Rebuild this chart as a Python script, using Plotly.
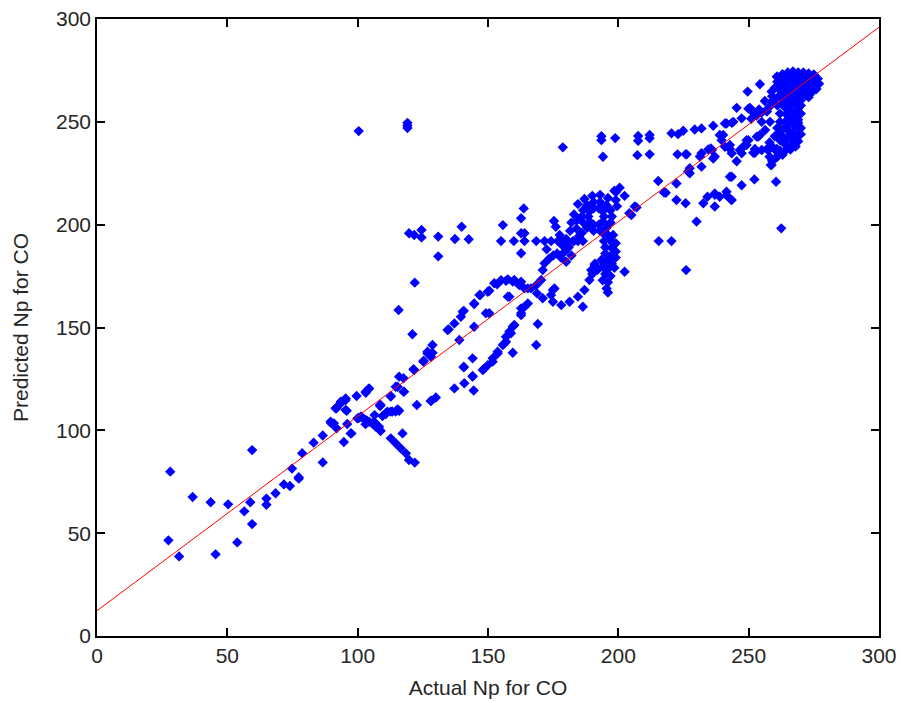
import plotly.graph_objects as go

# ---- regression line ----
fit_x = [0, 300]
fit_y = [12.3, 296.0]

# ---- scatter data, grouped by region (Actual, Predicted) ----
low_pts = [(28.1,79.9),(27.4,46.5),(31.5,38.7),(36.7,67.6),(43.6,65.0),(45.5,39.7),(50.3,64.0),(53.8,45.5),
           (56.5,60.6),(58.8,65.0),(59.5,90.4),(59.5,54.4),(65.0,66.8),(65.0,63.8),(68.5,69.4),(71.7,73.7),
           (74.0,72.9),(74.8,81.4),(77.4,76.5),(77.4,77.2),(78.7,88.9),(83.1,94.0),(86.6,97.5),(86.6,84.4),
           (89.8,103.5),(91.9,101.0),(91.9,110.7),(94.7,94.3),(96.0,103.1),(97.6,98.5),(93.5,113.9),(95.4,115.5),
           (95.8,109.5),(99.6,116.7),(103.1,118.3),(104.0,119.9),(97.3,98.5),(90.9,103.4)]

mid1_pts = [(99.9,105.8),(101.4,106.6),(102.7,105.3),(104.4,104.2),(105.6,103.4),(106.9,101.8),(108.6,100.1),
            (106.5,107.4),(108.6,111.8),(110.8,108.3),(112.7,109.1),(114.6,109.1),(115.9,109.5),(112.7,116.4),
            (115.3,121.2),(117.8,118.8),(117.2,98.5),(112.7,96.1),(114.6,93.7),(116.5,91.3),(118.5,88.8),
            (119.7,85.6),(121.9,84.3),(101.2,106.6),(103.5,104.8),(106.3,104.2),(108.2,101.8),(108.8,99.7),
            (110.8,107.9),(109.5,107.0),(113.3,109.1),(115.3,110.2),(92.2,111.5),(95.4,109.9),(95.4,114.7),
            (94.1,113.9),(104.4,120.4),(103.1,118.8),(108.8,112.3),(111.4,109.1),(117.6,118.8),(115.9,126.1),
            (117.6,125.3),(114.6,121.2),(112.7,116.7),(108.6,112.3),(122.7,112.3),(128.1,114.2),(130.0,116.0),
            (128.1,114.4),(89.6,104.2),(91.5,110.7),(100.4,106.0),(103.0,103.0)]

loop_pts = [(121.7,129.3),(125.2,133.4),(126.8,137.4),(128.7,141.5),(128.7,137.7),(126.8,138.2),(128.1,135.8),
            (125.3,133.8),(121.4,129.7),(121.0,146.7),(115.7,158.5),(121.9,171.8),(134.5,148.8),(134.9,149.1),
            (137.1,152.0),(139.6,155.2),(140.7,158.1),(144.7,161.7),(146.7,165.8),(149.9,167.4),(152.4,171.5),
            (156.9,172.7),(157.6,173.4),(160.1,173.1),(162.7,172.3),(165.3,169.0),(157.6,165.0),(158.2,165.0),
            (149.2,156.9),(144.7,150.4),(139.0,143.9),(144.1,135.0),(140.7,130.9),(140.9,122.9),(137.1,120.4),
            (144.1,126.1),(144.5,119.4),(148.0,129.3),(149.9,131.7),(151.8,135.0),(153.7,138.2),(155.7,141.5),
            (156.9,145.5),(158.2,148.0),(159.5,150.4),(156.3,142.3),(159.5,137.7),(153.7,137.4),(151.8,133.4),
            (148.6,130.1),(140.7,130.6),(144.1,126.4),(162.7,159.3),(162.7,156.0),(165.3,161.7),(140.3,157.7),
            (144.7,161.4),(147.0,165.8),(150.5,167.9),(150.5,156.9),(153.5,171.0),(155.0,173.0)]

outlier_pts = [(100.4,245.5),(119.1,249.5),(119.1,248.2),(119.1,247.0),(119.7,195.8),(121.7,195.0),(124.5,197.4),
               (124.5,193.8),(130.9,194.2),(130.9,184.6),(137.3,193.0),(139.9,199.0),(142.6,192.9)]

row_pts = [(155.7,199.8),(162.7,203.1),(163.7,207.9),(162.7,195.8),(164.0,195.8),(162.7,186.1),(155.0,192.0),
           (159.9,192.0),(164.0,192.0),(168.5,192.0),(171.7,192.0),(174.2,192.0),(176.8,192.0),(178.7,192.0),
           (180.7,192.0),(182.6,192.0),(184.5,192.0),(186.4,192.0),(175.3,201.8),(178.7,237.6)]

hook_pts = [(174.9,162.5),(178.1,160.9),(181.3,162.5),(184.5,165.0),(187.0,168.2),(188.9,173.1),(189.6,177.9),
            (190.9,180.4),(193.5,182.8),(174.2,165.8),(175.5,169.0),(186.4,160.1),(171.7,181.2),(171.0,177.9),
            (170.4,173.1),(168.5,170.6),(166.5,169.0),(168.8,166.6),(171.0,164.2),(174.9,168.2),(164.0,160.1),
            (162.7,156.9),(160.1,151.2),(158.8,147.2),(156.9,143.1),(169.1,151.7),(168.5,141.5),(159.5,172.3),
            (162.0,170.6),(164.0,169.0),(176.5,186.0),(173.5,183.5),(172.5,188.0)]

cluster1_pts = [(188.5,204.0),(189.0,206.5),(190.5,208.0),(192.5,208.0),(194.0,206.5),(194.5,204.0),(194.0,201.5),
                (192.5,200.0),(190.5,200.0),(189.0,201.5),
                (186.0,204.0),(186.5,207.0),(188.0,209.5),(190.5,211.0),(193.0,211.0),(195.5,209.5),(197.0,207.0),
                (197.5,204.0),(197.0,201.0),(195.5,198.5),(193.0,197.0),(190.5,197.0),(188.0,198.5),(186.5,201.0),
                (184.5,210.0),(187.0,212.5),(190.0,214.0),(193.0,214.5),(196.0,213.0),(198.5,216.5),(199.0,212.0),
                (199.5,209.0),(183.0,205.0),(182.0,201.0),(181.5,197.0),(184.0,198.0),(185.0,194.5),(183.0,192.0),
                (180.0,193.0),(178.5,190.0),(179.5,187.0),(178.0,184.0),(180.0,182.0),(177.5,195.0),(176.0,199.0),
                (175.0,185.0),(194.0,196.0),(196.0,195.0),(198.0,195.0),(194.5,192.0),(197.0,192.0),(199.0,191.0),
                (195.0,189.0),(197.5,188.5),(199.0,187.0),(195.0,186.0),(197.0,184.5),(199.0,184.0),(195.5,182.0),
                (197.5,181.0),(194.0,179.5),(196.0,178.5),(198.5,179.0),(195.0,176.0),(197.0,175.0),(194.0,173.0),
                (196.0,172.0),(195.5,169.0),(196.0,167.0),(192.0,178.0),(190.0,176.0),(191.0,181.0),(200.5,218.0),
                (184.0,202.0),(186.0,196.0),(181.0,189.0),(182.0,185.0)]

right_pts = [(193.5,241.1),(193.5,243.0),(194.1,233.0),(198.8,242.1),(207.6,243.1),(207.6,240.8),(212.0,243.6),
             (212.0,242.0),(207.3,233.8),(212.0,234.2),(220.4,244.4),(222.9,244.0),(224.9,245.7),(229.3,246.3),
             (231.9,246.8),(236.4,248.1),(240.9,249.2),(244.1,250.0),(247.3,251.7),(222.7,234.2),(225.8,234.2),
             (215.3,221.2),(217.5,215.7),(222.3,212.0),(225.8,210.4),(230.0,201.5),(232.6,210.4),(237.0,208.8),
             (237.0,214.5),(238.9,213.6),(241.5,216.0),(243.2,212.2),(241.5,214.3),(242.8,223.3),(247.3,219.2),
             (252.2,222.0),(260.5,220.9),(262.5,198.2),(215.5,192.0),(220.4,192.0),(226.0,177.9),(202.4,177.1),
             (227.4,227.4),(227.4,225.0),(231.9,228.2),(231.3,233.1),(235.9,236.3),(237.0,233.1),(239.6,241.1),
             (240.2,243.6),(242.8,238.7),(231.9,234.7),(235.5,237.1),(238.9,243.6),(243.5,249.5),(242.8,236.8),
             (245.4,230.8),(247.3,234.7),(249.2,238.7),(249.9,241.1),(252.4,236.8),(254.3,243.6),(257.0,236.8),
             (218.2,215.5),(234.2,213.6),(237.0,215.2),(205.0,204.7),(207.0,208.4),(222.3,220.0),(226.8,225.8),
             (206.3,208.8),(204.2,205.6),(202.4,214.0),(199.2,216.0),(249.6,264.7),(254.3,268.3),(245.4,256.8),
             (250.5,256.8),(241.5,249.2),(252.4,254.4),(255.0,250.0),(258.2,250.0),(253.1,242.8),(256.3,246.0),
             (249.2,241.1),(247.9,237.9),(252.4,235.0),(255.0,236.3),(257.6,236.3),(246.6,236.3),(260.8,236.8),
             (260.1,232.2),(258.8,229.0),(243.5,223.3),(243.5,212.0),(234.5,236.6),(236.4,232.2),(240.9,237.9),
             (243.5,234.7),(251.8,235.0),(253.7,242.8),(249.9,256.4),(226.2,234.2)]

cluster2_pts = [(261,272),(263,273),(265,274),(267,274.5),(269,274),(271,274),(273,273.5),(275,273),(276.5,271),
                (277,268.5),(276,266),(274,264),(272,263),(270,262),(268,262),(266,263),(264,265),(262,267),
                (261,269.5),(263,270),(265,271),(267,271.5),(269,271),(271,270.5),(273,270),(275,269),(274,267),
                (272,267),(270,266),(268,266.5),(266,267.5),(264,268),(262,263),(260,261),(258.5,258),(257,256),
                (259,260),(261,258),(263,261),(264,260),(266,260),(268,259),(270,258),(264,257),(266,256),(268,255),
                (265,253),(267,252),(269,251),(264,250),(266,249),(268,248),(270,247),(265,246),(267,245),(269,244),
                (263,243),(265,242),(267,241),(269,240.5),(264,239),(266,238),(268,238),(262,245),(262,250),(262,254),
                (261,247),(260,243),(258,240),(259,238),(260,236.5),(262,236),(264,236),(258,233),(259,231),
                (258.5,229),(261,233),(263,234),(251,251.5),(253,253),(255,254.5),(257,255),(252,254),(254,256),
                (260.8,271.9),(258.8,264.7),(256.2,260.1)]

cluster2_fill = [(263,273),(266,273),(269,272.5),(272,272),(275,271.5),(262,270.5),(265,269.5),(268,269),
                 (271,268.5),(274,268.5),(276,269.5),(263,268),(266,265.5),(269,268),(272,265.5),(275,266.5),
                 (262,265.5),(265,264),(268,264),(271,264),(273,265.5),(264,262.5),(267,261.5),(270,260.5),
                 (273,262),(263,259),(266,258),(269,256.5),(265,254.5),(268,253),(270,254),(266,251),
                 (269,249.5),(264,247.5),(266,244),(268,242.5),(264,241),(270,244),(262,241),(266,236.5),
                 (260,266.5),(259,262.5)]

groups = [low_pts, mid1_pts, loop_pts, outlier_pts, row_pts, hook_pts, cluster1_pts, right_pts,
          cluster2_pts, cluster2_fill]
actual = [p[0] for g in groups for p in g]
predicted = [p[1] for g in groups for p in g]

fig = go.Figure()
fig.add_trace(go.Scatter(
    x=actual, y=predicted, mode="markers",
    marker=dict(symbol="diamond", size=8, color="#0000ff", line=dict(width=0)),
    showlegend=False, hoverinfo="skip"))
fig.add_trace(go.Scatter(
    x=fit_x, y=fit_y, mode="lines",
    line=dict(color="#ff0000", width=1), showlegend=False, hoverinfo="skip"))

font_fam = "Liberation Sans, Arial, sans-serif"
axis_common = dict(
    showgrid=False, zeroline=False, showline=True, linecolor="#000000", linewidth=1.5,
    mirror="ticks", ticks="inside", ticklen=8, tickwidth=1.5, tickcolor="#000000",
    automargin=False,
    tickfont=dict(family=font_fam, size=21, color="#262626"),
)

fig.update_layout(
    width=901, height=703,
    margin=dict(l=97, r=22, t=19, b=67),
    paper_bgcolor="white", plot_bgcolor="white",
    xaxis=dict(range=[0, 300], tickmode="array", tickvals=[0, 50, 100, 150, 200, 250, 300],
               title=dict(text="Actual Np for CO", standoff=14,
                          font=dict(family=font_fam, size=21, color="#262626")),
               **axis_common),
    yaxis=dict(range=[0, 300], tickmode="array", tickvals=[0, 50, 100, 150, 200, 250, 300],
               title=dict(text="Predicted Np for CO", standoff=22,
                          font=dict(family=font_fam, size=21, color="#262626")),
               **axis_common),
)

fig.write_html("out.html", config={"displayModeBar": False},
               post_script="document.body.style.margin='0';document.body.style.overflow='hidden';")
